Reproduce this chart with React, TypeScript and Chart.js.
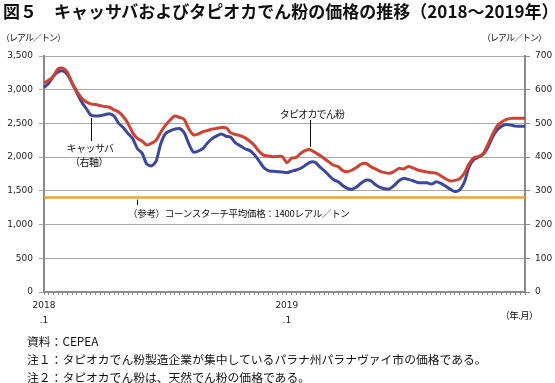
import React, { useEffect, useRef } from "react";
import { Chart, registerables } from "chart.js";

Chart.register(...registerables);

// ---- data (weekly, Jan 2018 – Dec 2019) ----
const YEARS = [2018, 2019];
const WEEKS_PER_YEAR = 52;
const categories: string[] = [];
YEARS.forEach((y) => {
  for (let w = 1; w <= WEEKS_PER_YEAR; w++) categories.push(`${y}-W${w}`);
});

// tapioca starch price (left axis, BRL/t)
const tapioca = [
  3100, 3140, 3200, 3310, 3320, 3260, 3100, 2980, 2880, 2820,
  2790, 2780, 2765, 2750, 2740, 2700, 2670, 2600, 2500, 2360,
  2280, 2240, 2180, 2205, 2250, 2370, 2470, 2550, 2610, 2590,
  2560, 2420, 2330, 2343, 2377, 2395, 2415, 2427, 2440, 2435,
  2360, 2335, 2320, 2290, 2240, 2180, 2090, 2030, 2017, 2007,
  2010, 2010, 1918, 1983, 1997, 2057, 2100, 2110, 2070, 2030,
  1980, 1930, 1880, 1859, 1800, 1784, 1810, 1850, 1900, 1905,
  1860, 1825, 1790, 1770, 1762, 1790, 1834, 1825, 1860, 1840,
  1810, 1795, 1780, 1770, 1762, 1720, 1680, 1646, 1655, 1680,
  1760, 1900, 1990, 2007, 2050, 2180, 2330, 2460, 2520, 2560,
  2575, 2575, 2575, 2575,
];

// cassava price (right axis, BRL/t)
const cassava = [
  606, 619, 640, 653, 656, 645, 620, 592, 565, 545,
  525, 522, 523, 526, 529, 522, 500, 487, 470, 455,
  425, 412, 380, 374, 388, 440, 470, 478, 483, 485,
  473, 440, 415, 418, 425, 442, 455, 463, 469, 462,
  459, 442, 434, 425, 420, 408, 390, 370, 360, 358,
  357, 356, 354, 358, 362, 367, 376, 385, 385, 372,
  360, 346, 333, 327, 315, 307, 305, 312, 324, 332,
  330, 318, 310, 306, 306, 316, 330, 337, 334, 330,
  325, 324, 324, 320, 327, 322, 314, 305, 298, 303,
  325, 370, 392, 400, 408, 428, 458, 480, 492, 497,
  495, 492, 492, 492,
];

// reference: corn starch average price
const CORN_STARCH_PRICE = 1400;

// axis ticks
const leftTicks = { min: 0, max: 3500, step: 500 };
const rightTicks = { min: 0, max: 700, step: 100 };
const xTickIndex = [0, 52];
const xTickText = [["2018", ".1"], ["2019", ".1"]];

// annotation anchors (category index)
const CASSAVA_LABEL_INDEX = 10;
const TAPIOCA_LABEL_INDEX = 57;
const CORN_LABEL_INDEX = 20;

const RED = "#d4402f";
const BLUE = "#3a48a2";
const ORANGE = "#e8a43a";
const GRID = "#a8a8a8";
const AXIS = "#8a8a8a";

const TICK_FONT = { family: "'DejaVu Sans', sans-serif", size: 9 };
const JP = "'Noto Sans CJK JP', sans-serif";

const overlayPlugin = {
  id: "overlay",
  beforeDatasetsDraw(chart: any) {
    const { ctx, chartArea, scales } = chart;
    const y = scales.y.getPixelForValue(CORN_STARCH_PRICE);
    ctx.save();
    ctx.strokeStyle = ORANGE;
    ctx.lineWidth = 2.5;
    ctx.beginPath();
    ctx.moveTo(chartArea.left, y);
    ctx.lineTo(chartArea.right, y);
    ctx.stroke();
    ctx.restore();
  },
  afterDatasetsDraw(chart: any) {
    const { ctx, scales } = chart;
    const xs = scales.x, ys = scales.y, y1s = scales.y1;
    const line = (x: number, a: number, b: number) => {
      ctx.beginPath();
      ctx.moveTo(Math.round(x) + 0.5, a);
      ctx.lineTo(Math.round(x) + 0.5, b);
      ctx.stroke();
    };
    ctx.save();
    ctx.strokeStyle = "#111";
    ctx.lineWidth = 1;
    line(xs.getPixelForValue(CASSAVA_LABEL_INDEX), y1s.getPixelForValue(cassava[CASSAVA_LABEL_INDEX]) + 3, 141);
    line(xs.getPixelForValue(TAPIOCA_LABEL_INDEX), 120, ys.getPixelForValue(tapioca[TAPIOCA_LABEL_INDEX]) - 3);
    line(xs.getPixelForValue(CORN_LABEL_INDEX), ys.getPixelForValue(CORN_STARCH_PRICE) + 2, 205);
    ctx.restore();
  },
};

type TProps = { x: number; y: number; size: number; align?: "left" | "center" | "right"; weight?: number; ls?: number; children: React.ReactNode };
const T = ({ x, y, size, align = "left", weight = 400, ls = 0, children }: TProps) => (
  <div
    style={{
      position: "absolute",
      left: x,
      top: y - size / 2,
      transform: align === "center" ? "translateX(-50%)" : align === "right" ? "translateX(-100%)" : undefined,
      fontFamily: JP,
      fontSize: size,
      fontWeight: weight,
      lineHeight: `${size}px`,
      letterSpacing: ls,
      whiteSpace: "nowrap",
      color: "#111",
    }}
  >
    {children}
  </div>
);

export default function App() {
  const ref = useRef<HTMLCanvasElement>(null);
  useEffect(() => {
    const chart = new Chart(ref.current!, {
      type: "line",
      data: {
        labels: categories,
        datasets: [
          { label: "タピオカでん粉", data: tapioca, yAxisID: "y", borderColor: RED, borderWidth: 3, pointRadius: 0, tension: 0.25 },
          { label: "キャッサバ", data: cassava, yAxisID: "y1", borderColor: BLUE, borderWidth: 3, pointRadius: 0, tension: 0.25 },
        ],
      },
      options: {
        responsive: false,
        animation: false,
        devicePixelRatio: 1,
        layout: { padding: { top: 56, left: 0, right: 0, bottom: 0 } },
        plugins: { legend: { display: false }, tooltip: { enabled: false }, title: { display: false } },
        scales: {
          x: {
            type: "category",
            offset: false,
            grid: { drawOnChartArea: false, drawTicks: true, tickLength: 3, color: AXIS, lineWidth: 1 },
            border: { color: AXIS, width: 2 },
            ticks: {
              autoSkip: false,
              maxRotation: 0,
              minRotation: 0,
              padding: 3,
              color: "#222",
              font: { ...TICK_FONT, lineHeight: 1.65 },
              callback: (_v: any, i: number) => {
                const k = xTickIndex.indexOf(i);
                return k >= 0 ? xTickText[k] : "";
              },
            },
            afterFit: (s: any) => { s.height = 91; },
          },
          y: {
            position: "left",
            min: leftTicks.min,
            max: leftTicks.max,
            grid: { color: GRID, lineWidth: 1, tickLength: 5 },
            border: { color: AXIS, width: 2 },
            ticks: {
              stepSize: leftTicks.step,
              padding: 6,
              color: "#222",
              font: TICK_FONT,
              callback: (v: any) => Number(v).toLocaleString("en-US"),
            },
            afterFit: (s: any) => { s.width = 44; },
          },
          y1: {
            position: "right",
            min: rightTicks.min,
            max: rightTicks.max,
            grid: { drawOnChartArea: false, color: AXIS, lineWidth: 1, tickLength: 5 },
            border: { color: AXIS, width: 2 },
            ticks: { stepSize: rightTicks.step, padding: 5, color: "#222", font: TICK_FONT },
            afterFit: (s: any) => { s.width = 30; },
          },
        },
      },
      plugins: [overlayPlugin],
    } as any);
    return () => chart.destroy();
  }, []);

  return (
    <div style={{ position: "fixed", left: 0, top: 0, width: 555, height: 383, background: "#fff", overflow: "hidden" }}>
      <canvas ref={ref} width={555} height={383} style={{ position: "absolute", left: 0, top: 0, width: 555, height: 383 }} />
      <T x={3} y={10} size={17} weight={700}>図５　キャッサバおよびタピオカでん粉の価格の推移（2018～2019年）</T>
      <T x={1} y={37} size={9} ls={-1}>（レアル／トン）</T>
      <T x={546} y={37} size={9} ls={-1} align="right">（レアル／トン）</T>
      <T x={90} y={148} size={10} align="center" ls={-0.5}>キャッサバ</T>
      <T x={89} y={162} size={10} align="center" ls={-0.5}>（右軸）</T>
      <T x={312} y={114} size={10} align="center" ls={-0.8}>タピオカでん粉</T>
      <T x={128} y={214} size={9.5} ls={-0.3}>（参考）コーンスターチ平均価格：1400レアル／トン</T>
      <T x={538} y={316} size={9.5} align="right" ls={-0.6}>（年.月）</T>
      <T x={27} y={341} size={11.8}>資料：CEPEA</T>
      <T x={27} y={359} size={11.8}>注１：タピオカでん粉製造企業が集中しているパラナ州パラナヴァイ市の価格である。</T>
      <T x={27} y={377} size={11.8}>注２：タピオカでん粉は、天然でん粉の価格である。</T>
    </div>
  );
}
